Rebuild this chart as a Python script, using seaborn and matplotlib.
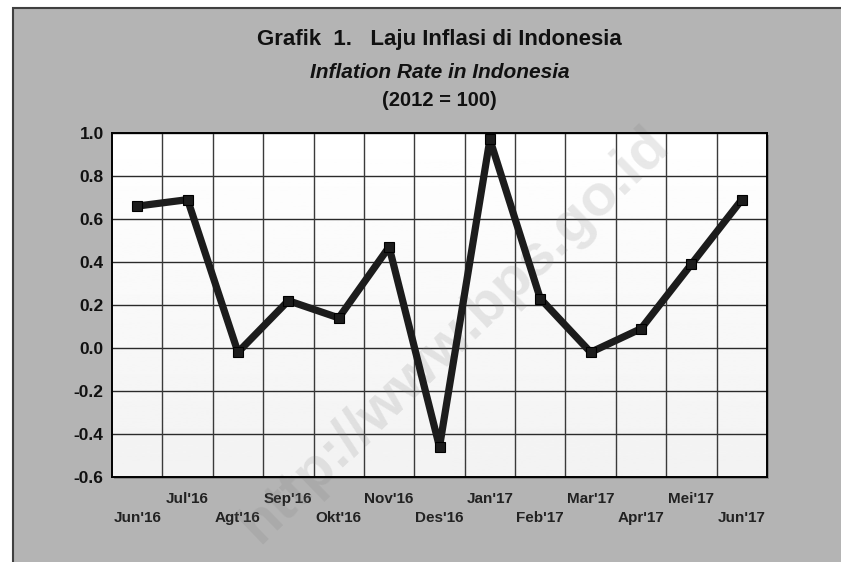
import numpy as np
import pandas as pd
import matplotlib
matplotlib.use("Agg")
import matplotlib.pyplot as plt
import seaborn as sns
from matplotlib.patches import Rectangle

months = ["Jun'16", "Jul'16", "Agt'16", "Sep'16", "Okt'16", "Nov'16", "Des'16",
          "Jan'17", "Feb'17", "Mar'17", "Apr'17", "Mei'17", "Jun'17"]
inflation = [0.66, 0.69, -0.02, 0.22, 0.14, 0.47, -0.46,
             0.97, 0.23, -0.02, 0.09, 0.39, 0.69]
y_ticks = [-0.6, -0.4, -0.2, 0.0, 0.2, 0.4, 0.6, 0.8, 1.0]

title_main = "Grafik  1.   Laju Inflasi di Indonesia"
title_sub = "Inflation Rate in Indonesia"
title_base = "(2012 = 100)"
watermark = "http://www.bps.go.id"

sns.set_theme(style="white")
FONT = ['Liberation Sans', 'DejaVu Sans']
plt.rcParams['font.family'] = FONT
plt.rcParams['axes.unicode_minus'] = False

df = pd.DataFrame({"month": months, "inflation": inflation})

W, H = 841, 562
fig = plt.figure(figsize=(W / 100, H / 100), dpi=100)
fig.patch.set_facecolor("white")

# gray panel background
fig.patches.append(Rectangle((13 / W, -0.01), 1.0, 1 - 8 / H + 0.01,
                             transform=fig.transFigure, facecolor="#b4b4b4",
                             edgecolor="#404040", linewidth=1.5, zorder=-10))

L, R, T, B = 112, 767, 133, 477
ax_rect = [L / W, 1 - B / H, (R - L) / W, (B - T) / H]
# subtle shadow behind plot area
fig.patches.append(Rectangle((ax_rect[0] + 2 / W, ax_rect[1] - 2 / H), ax_rect[2], ax_rect[3],
                             transform=fig.transFigure, facecolor="#8a8a8a",
                             edgecolor="none", zorder=-5))
ax = fig.add_axes(ax_rect)
ax.set_facecolor("#f8f8f8")

# gradient background for plot area
grad = np.linspace(1.0, 0.95, 256).reshape(-1, 1)
ax.imshow(grad, extent=[0, 1, 0, 1], transform=ax.transAxes, cmap="gray",
          vmin=0, vmax=1, aspect="auto", zorder=0)

sns.lineplot(data=df, x="month", y="inflation", ax=ax, sort=False,
             color="#1c1c1c", linewidth=5.2, marker="s", markersize=7.5,
             markerfacecolor="#1c1c1c", markeredgecolor="#000000",
             markeredgewidth=0.8, zorder=5)

ax.set_xlim(-0.5, len(months) - 0.5)
ax.set_ylim(-0.6, 1.0)
ax.set_yticks(y_ticks)
ax.set_yticklabels([f"{v:.1f}" for v in y_ticks], fontsize=12.5, fontweight="bold",
                   color="#111111")
ax.set_xticks(range(len(months)))
ax.set_xticklabels([m if i % 2 == 1 else "\n" + m for i, m in enumerate(months)],
                   fontsize=11, fontweight="bold", color="#222222", linespacing=1.45)
ax.set_xticks(np.arange(0.5, len(months) - 0.5, 1.0), minor=True)
ax.tick_params(axis="x", which="major", length=0, pad=11)
ax.tick_params(axis="y", which="major", length=0, pad=6)
ax.tick_params(which="minor", length=0)
ax.set_xlabel("")
ax.set_ylabel("")

ax.grid(False)
for v in y_ticks:
    ax.axhline(v, color="#2a2a2a", linewidth=1.0, zorder=1)
for xv in np.arange(0.5, len(months) - 0.5, 1.0):
    ax.axvline(xv, color="#3a3a3a", linewidth=1.0, zorder=1)

for s in ax.spines.values():
    s.set_color("#000000")
    s.set_linewidth(1.4)
    s.set_zorder(6)

# watermark
ax.text(0.524, 0.413, watermark, transform=ax.transAxes, rotation=44,
        fontsize=42, fontweight="bold", color="#7a7a7a", alpha=0.17,
        ha="center", va="center", zorder=2, clip_on=False)

cx = (L + R) / 2 / W
fig.text(cx, 1 - 40 / H, title_main, ha="center", va="center", fontsize=16,
         fontweight="bold", color="#111111")
fig.text(cx, 1 - 72 / H, title_sub, ha="center", va="center", fontsize=15,
         fontweight="bold", style="italic", color="#111111")
fig.text(cx, 1 - 101 / H, title_base, ha="center", va="center", fontsize=14.5,
         fontweight="bold", color="#111111")

fig.savefig("out.png", dpi=100, facecolor=fig.get_facecolor())
